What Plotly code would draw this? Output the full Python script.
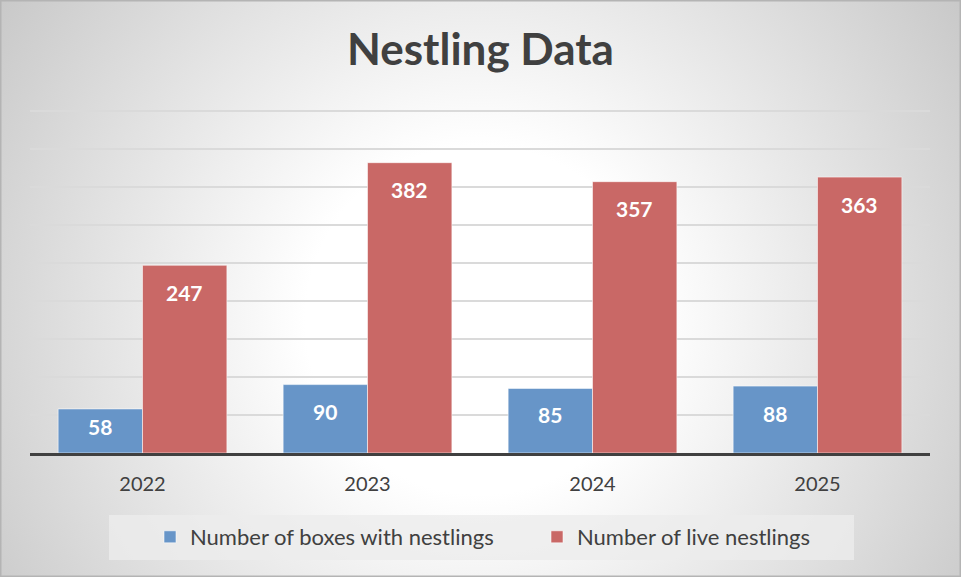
import base64
import plotly.graph_objects as go

# ---- data ----
years = ["2022", "2023", "2024", "2025"]
boxes_with_nestlings = [58, 90, 85, 88]
live_nestlings = [247, 382, 357, 363]
series_names = ["Number of boxes with nestlings", "Number of live nestlings"]
title_text = "Nestling Data"

BLUE = "#6795C8"
RED = "#C96866"
FONT = "Lato"

W, H = 961, 577
ML, MR, MT, MB = 30, 31, 100, 124
PW, PH = W - ML - MR, H - MT - MB
YTOP = 450 * PH / 342  # 450 gridline lands 342 px above the baseline

# radial gradient background as SVG image
svg = f"""<svg xmlns='http://www.w3.org/2000/svg' width='{W}' height='{H}' viewBox='0 0 {W} {H}'>
<defs><radialGradient id='g' gradientUnits='userSpaceOnUse' cx='480' cy='320' r='582'>
<stop offset='0' stop-color='#ffffff'/><stop offset='0.3' stop-color='#ffffff'/>
<stop offset='1' stop-color='#c8c8c8'/></radialGradient></defs>
<rect x='0' y='0' width='{W}' height='{H}' fill='url(#g)'/>
<rect x='0.75' y='0.75' width='{W-1.5}' height='{H-1.5}' fill='none' stroke='#b4b4b4' stroke-width='1.5'/>
</svg>"""
bg_uri = "data:image/svg+xml;base64," + base64.b64encode(svg.encode()).decode()

fig = go.Figure()
fig.add_trace(go.Bar(
    x=years, y=boxes_with_nestlings, name=series_names[0],
    marker=dict(color=BLUE, line=dict(color="rgba(255,255,255,0.55)", width=1)),
))
fig.add_trace(go.Bar(
    x=years, y=live_nestlings, name=series_names[1],
    marker=dict(color=RED, line=dict(color="rgba(255,255,255,0.55)", width=1)),
))

# data labels inside the bar ends (x given as category index)
px_per_unit = PH / YTOP
group_w = PW / len(years) * 0.75
annotations = []
for si, vals in enumerate([boxes_with_nestlings, live_nestlings]):
    xs = (si - 0.5) * group_w / 2
    for i, v in enumerate(vals):
        shift = -min(27, v * px_per_unit * 0.41)
        annotations.append(dict(
            x=i, y=v, xref="x", yref="y", text=f"<b>{v}</b>", showarrow=False,
            xshift=xs, yshift=shift, yanchor="middle",
            font=dict(family=FONT, size=21, color="white"),
        ))

fig.update_layout(
    width=W, height=H,
    margin=dict(l=ML, r=MR, t=MT, b=MB, autoexpand=False),
    paper_bgcolor="white",
    plot_bgcolor="rgba(0,0,0,0)",
    barmode="group", bargap=0.25, bargroupgap=0.0,
    title=dict(text=f"<b>{title_text}</b>", x=0.5, xanchor="center",
               y=1 - 50 / H, yanchor="middle", yref="container",
               font=dict(family=FONT, size=44, color="#404040")),
    font=dict(family=FONT, color="#404040"),
    xaxis=dict(type="category", range=[-0.5, len(years) - 0.5],
               showline=True, linecolor="#404040", linewidth=3,
               showgrid=False, ticks="outside", ticklen=11, tickcolor="rgba(0,0,0,0)",
               tickfont=dict(family=FONT, size=20, color="#404040")),
    yaxis=dict(range=[0, YTOP], tick0=0, dtick=50, showgrid=True, gridcolor="#dadada",
               gridwidth=1.5, showticklabels=False, zeroline=False, showline=False),
    legend=dict(orientation="h", x=(150 - ML) / PW, xanchor="left", y=(453 - 537) / PH,
                yanchor="middle", bgcolor="rgba(0,0,0,0)",
                font=dict(family=FONT, size=22, color="#404040"),
                entrywidth=342, traceorder="normal"),
    images=[dict(source=bg_uri, xref="paper", yref="paper",
                 x=-ML / PW, y=1 + MT / PH, sizex=W / PW, sizey=H / PH,
                 xanchor="left", yanchor="top", sizing="stretch", layer="below")],
    shapes=[dict(type="rect", xref="paper", yref="paper",
                 x0=(109 - ML) / PW, x1=(854 - ML) / PW,
                 y0=(453 - 515) / PH, y1=(453 - 560) / PH,
                 fillcolor="rgba(236,236,236,0.8)", line=dict(width=0), layer="below")],
    annotations=annotations,
    showlegend=True,
)

fig.write_html("out.html", config={"displayModeBar": False},
               post_script="document.body.style.margin='0';")
